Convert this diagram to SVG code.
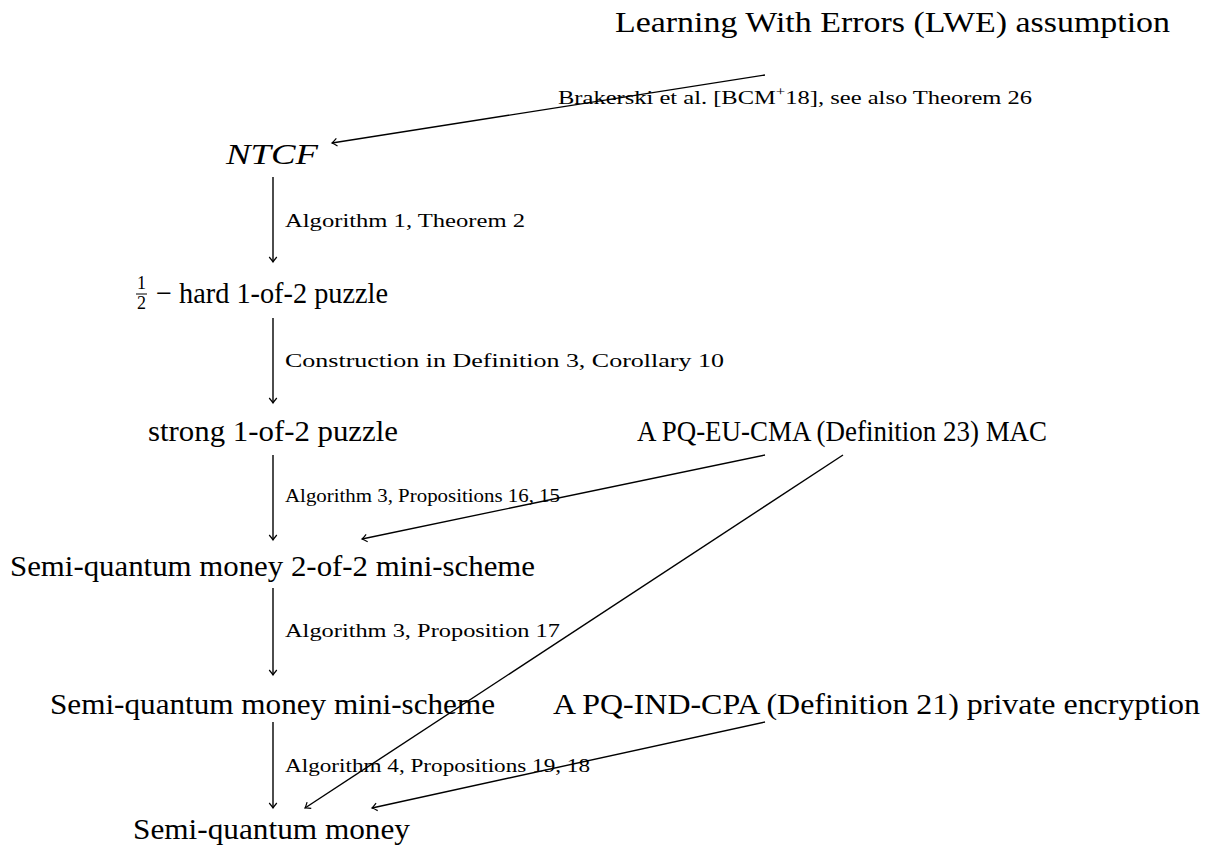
<svg xmlns="http://www.w3.org/2000/svg" width="1222" height="848" viewBox="0 0 1222 848">
<defs>
<style>
.n{font-family:"Liberation Serif","Times New Roman",serif;font-size:30px;fill:#000}
.l{font-family:"Liberation Serif","Times New Roman",serif;font-size:19px;fill:#000}
.f{font-family:"Liberation Serif","Times New Roman",serif;font-size:18px;fill:#000}
.e{stroke:#000;stroke-width:1.4;fill:none}
.a{marker-end:url(#arr)}
</style>
<marker id="arr" viewBox="-6 -5 8 10" refX="0" refY="0" markerWidth="8" markerHeight="10" markerUnits="userSpaceOnUse" orient="auto">
<path d="M-5,-3.8 Q-1.5,-0.8 0,0 Q-1.5,0.8 -5,3.8" stroke="#000" stroke-width="1.2" fill="none"/>
</marker>
</defs>
<rect width="1222" height="848" fill="#fff"/>
<g id="connectors">
<line class="e a" x1="765" y1="75" x2="332" y2="143"/>
<line class="e a" x1="273" y1="177" x2="273" y2="262"/>
<line class="e a" x1="273" y1="318" x2="273" y2="403"/>
<line class="e a" x1="273" y1="455" x2="273" y2="540"/>
<line class="e a" x1="765" y1="455" x2="362" y2="539"/>
<line class="e a" x1="273" y1="588" x2="273" y2="675"/>
<line class="e a" x1="843" y1="455" x2="305" y2="808"/>
<line class="e a" x1="273" y1="722" x2="273" y2="808"/>
<line class="e a" x1="765" y1="722" x2="372" y2="808"/>
<text class="l" x="558" y="104" textLength="474" lengthAdjust="spacingAndGlyphs">Brakerski et al. [BCM<tspan dy="-8" font-size="13">+</tspan><tspan dy="8">18], see also Theorem 26</tspan></text>
<text class="l" x="285" y="227" textLength="240" lengthAdjust="spacingAndGlyphs">Algorithm 1, Theorem 2</text>
<text class="l" x="285" y="367" textLength="439" lengthAdjust="spacingAndGlyphs">Construction in Definition 3, Corollary 10</text>
<text class="l" x="285" y="502" textLength="275" lengthAdjust="spacingAndGlyphs">Algorithm 3, Propositions 16, 15</text>
<text class="l" x="285" y="637" textLength="275" lengthAdjust="spacingAndGlyphs">Algorithm 3, Proposition 17</text>
<text class="l" x="285" y="772" textLength="305" lengthAdjust="spacingAndGlyphs">Algorithm 4, Propositions 19, 18</text>
</g>
<g id="lwe"><text class="n" x="615" y="32" textLength="555" lengthAdjust="spacingAndGlyphs">Learning With Errors (LWE) assumption</text></g>
<g id="ntcf"><text class="n" x="226" y="164" font-style="italic" textLength="92" lengthAdjust="spacingAndGlyphs">NTCF</text></g>
<g id="half-hard">
<text class="f" x="137" y="289">1</text>
<line x1="136" y1="294" x2="147" y2="294" stroke="#000" stroke-width="1"/>
<text class="f" x="137" y="309">2</text>
<text class="n" x="156" y="303" textLength="232" lengthAdjust="spacingAndGlyphs">− hard 1-of-2 puzzle</text>
</g>
<g id="strong"><text class="n" x="148" y="441" textLength="250" lengthAdjust="spacingAndGlyphs">strong 1-of-2 puzzle</text></g>
<g id="mac"><text class="n" x="637" y="441" textLength="410" lengthAdjust="spacingAndGlyphs">A PQ-EU-CMA (Definition 23) MAC</text></g>
<g id="mini22"><text class="n" x="10" y="576" textLength="525" lengthAdjust="spacingAndGlyphs">Semi-quantum money 2-of-2 mini-scheme</text></g>
<g id="mini"><text class="n" x="50" y="714" textLength="445" lengthAdjust="spacingAndGlyphs">Semi-quantum money mini-scheme</text></g>
<g id="enc"><text class="n" x="553" y="714" textLength="647" lengthAdjust="spacingAndGlyphs">A PQ-IND-CPA (Definition 21) private encryption</text></g>
<g id="money"><text class="n" x="133" y="839" textLength="277" lengthAdjust="spacingAndGlyphs">Semi-quantum money</text></g>
</svg>
